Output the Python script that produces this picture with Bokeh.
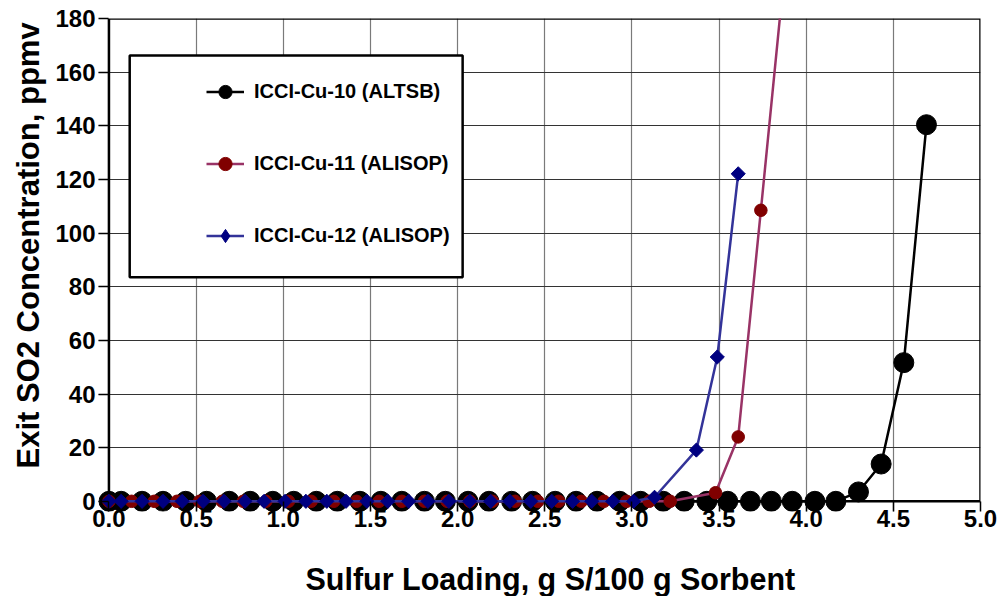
import numpy as np
from bokeh.plotting import figure
from bokeh.models import (Range1d, FixedTicker, PrintfTickFormatter, BoxAnnotation,
                          Legend, LegendItem, Title)
from bokeh.embed import file_html
from bokeh.resources import INLINE

# ---- data ----
cu10_x = [0.00, 0.07, 0.19, 0.31, 0.44, 0.56, 0.69, 0.81, 0.94, 1.06,
          1.19, 1.31, 1.44, 1.56, 1.68, 1.81, 1.93, 2.06, 2.18, 2.31,
          2.43, 2.56, 2.68, 2.80, 2.93, 3.05, 3.18, 3.30, 3.43, 3.55,
          3.68, 3.80, 3.92, 4.05, 4.17, 4.30, 4.43, 4.56, 4.69]
cu10_y = [0, 0, 0, 0, 0, 0, 0, 0, 0, 0,
          0, 0, 0, 0, 0, 0, 0, 0, 0, 0,
          0, 0, 0, 0, 0, 0, 0, 0, 0, 0,
          0, 0, 0, 0, 0, 3.5, 13.9, 51.7, 140.4]

cu11_x = [0.00, 0.13, 0.26, 0.39, 0.52, 0.65, 0.77, 0.90, 1.03, 1.16,
          1.29, 1.42, 1.55, 1.68, 1.81, 1.94, 2.07, 2.20, 2.33, 2.46,
          2.58, 2.71, 2.84, 2.97, 3.10, 3.22, 3.48, 3.61, 3.74, 3.87]
cu11_y = [0, 0, 0, 0, 0, 0, 0, 0, 0, 0,
          0, 0, 0, 0, 0, 0, 0, 0, 0, 0,
          0, 0, 0, 0, 0, 0, 3.2, 24.0, 108.5, 194.0]

cu12_x = [0.00, 0.07, 0.19, 0.31, 0.42, 0.54, 0.66, 0.78, 0.89, 1.01,
          1.13, 1.25, 1.36, 1.48, 1.60, 1.72, 1.83, 1.95, 2.07, 2.19,
          2.30, 2.42, 2.54, 2.66, 2.77, 2.89, 3.01, 3.13, 3.37, 3.49, 3.61]
cu12_y = [0, 0, 0, 0, 0, 0, 0, 0, 0, 0,
          0, 0, 0, 0, 0, 0, 0, 0, 0, 0,
          0, 0, 0, 0, 0, 0, 0, 1.5, 19.1, 53.8, 122.1]

series_names = ["ICCI-Cu-10 (ALTSB)", "ICCI-Cu-11 (ALISOP)", "ICCI-Cu-12 (ALISOP)"]
x_ticks = [0.0, 0.5, 1.0, 1.5, 2.0, 2.5, 3.0, 3.5, 4.0, 4.5, 5.0]
y_ticks = [0, 20, 40, 60, 80, 100, 120, 140, 160, 180]
x_title = "Sulfur Loading,  g S/100 g Sorbent"
y_title = "Exit SO2 Concentration, ppmv"

FONT = "Liberation Sans"

p = figure(width=998, height=596, output_backend="svg", toolbar_location=None,
           x_range=Range1d(-0.06, 5.0), y_range=Range1d(-3.8, 180),
           min_border_left=98, min_border_right=18, min_border_top=18,
           min_border_bottom=85)
p.outline_line_color = None
p.background_fill_color = "white"
p.border_fill_color = "white"

# axes
for ax in (p.xaxis, p.yaxis):
    ax.axis_line_color = None
    ax.major_tick_in = 10
    ax.major_tick_out = 0
    ax.minor_tick_line_color = None
    ax.major_tick_line_color = "black"
    ax.major_tick_line_width = 1.5
    ax.major_label_text_font = FONT
    ax.major_label_text_font_style = "bold"
    ax.major_label_text_font_size = "24px"
    ax.major_label_text_color = "black"
p.xaxis.ticker = FixedTicker(ticks=x_ticks)
p.xaxis.formatter = PrintfTickFormatter(format="%.1f")
p.xaxis.major_label_standoff = -2
# blank axis label used only as a spacer between tick labels and the title
p.xaxis.axis_label = " "
p.xaxis.axis_label_text_font_size = "1px"
p.xaxis.axis_label_standoff = 25
p.yaxis.ticker = FixedTicker(ticks=y_ticks)
p.yaxis.major_label_standoff = 3

p.xgrid.ticker = FixedTicker(ticks=x_ticks)
p.ygrid.ticker = FixedTicker(ticks=y_ticks)
p.xgrid.grid_line_color = "#7a7a7a"
p.xgrid.grid_line_width = 1.2
p.ygrid.grid_line_color = "#333333"
p.ygrid.grid_line_width = 1.2

# axis titles
p.add_layout(Title(text=y_title, align="left", offset=43, standoff=14,
                   text_font=FONT, text_font_style="bold",
                   text_font_size="31px", text_color="black"), "left")
p.add_layout(Title(text=x_title, align="left", offset=207, standoff=2,
                   text_font=FONT, text_font_style="bold",
                   text_font_size="30.5px", text_color="black"), "below")

# plot-area frame
frame_box = BoxAnnotation(left=0, right=5, bottom=0, top=180, fill_alpha=0,
                          line_color="black", line_alpha=1, line_width=2.5,
                          level="underlay")
p.add_layout(frame_box)

# series
l1 = p.line(cu10_x, cu10_y, line_color="black", line_width=2.5)
s1 = p.scatter(cu10_x, cu10_y, marker="circle", size=20,
               fill_color="black", line_color="black")
l2 = p.line(cu11_x, cu11_y, line_color="#993366", line_width=2.5)
s2 = p.scatter(cu11_x, cu11_y, marker="circle", size=12.5,
               fill_color="#800000", line_color="#800000")
l3 = p.line(cu12_x, cu12_y, line_color="#333399", line_width=2.5)
# diamond-shaped key glyph (small, hidden under the data markers, used for the legend)
s3_key = p.scatter(cu12_x, cu12_y, marker="diamond", size=5,
                   fill_color="#000080", line_color="#000080")
s3 = p.scatter(cu12_x, cu12_y, marker="square", size=10, angle=np.pi / 4,
               fill_color="#000080", line_color="#000080")

# legend box + legend
legend_box = BoxAnnotation(left=0.119, right=2.029, bottom=83.5, top=166.2,
                           fill_color="white", fill_alpha=1,
                           line_color="black", line_alpha=1, line_width=2.5)
p.add_layout(legend_box)

legend = Legend(items=[LegendItem(label=series_names[0], renderers=[l1, s1]),
                       LegendItem(label=series_names[1], renderers=[l2, s2]),
                       LegendItem(label=series_names[2], renderers=[l3, s3_key])],
                location=(98, 249), glyph_width=38, glyph_height=33,
                label_height=33, label_standoff=10, spacing=39, padding=10,
                margin=0, border_line_alpha=0, background_fill_alpha=0,
                label_text_font=FONT, label_text_font_style="bold",
                label_text_font_size="20px", label_text_color="black")
p.add_layout(legend)

open("out.html", "w").write(file_html(p, INLINE))
